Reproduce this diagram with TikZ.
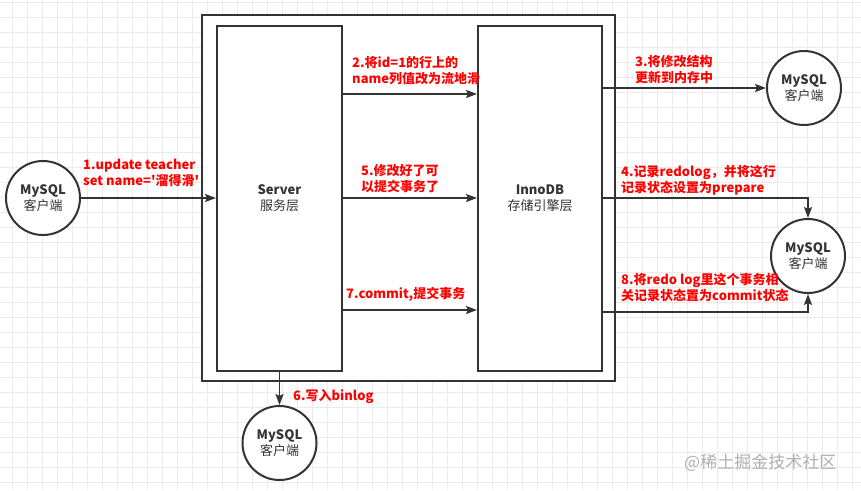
\documentclass[tikz,border=0pt]{standalone}
\usepackage{fontspec}
\setmainfont{Noto Sans CJK SC}
\usetikzlibrary{arrows.meta,positioning,calc}
\definecolor{ink}{HTML}{333333}
\definecolor{red1}{HTML}{FF0000}
\definecolor{grid1}{HTML}{EBEBEB}
\definecolor{muted}{HTML}{B0B0B0}

\begin{document}
\begin{tikzpicture}[x=1pt,y=-1pt,
  box/.style={draw=ink,line width=2pt,fill=white,inner sep=0pt,align=center,
              text=ink,font=\fontsize{13}{16}\selectfont},
  client/.style={circle,draw=ink,line width=2pt,fill=white,minimum size=74pt,
                 inner sep=0pt,align=center,text=ink,font=\fontsize{13}{16}\selectfont},
  arr/.style={draw=ink,line width=1.8pt,-{Stealth[length=11pt,width=8pt,inset=2pt]}},
  lbl/.style={anchor=west,align=left,inner sep=0pt,text=red1,
              font=\fontsize{13}{16}\selectfont\bfseries}]
  \useasboundingbox (0,0) rectangle (861,490);
  \fill[white] (0,0) rectangle (861,490);
  \foreach \x in {12,27,...,861}
    \draw[grid1,line width=0.8pt] (\x,0) -- (\x,490);
  \foreach \y in {2,17,...,490}
    \draw[grid1,line width=0.8pt] (0,\y) -- (861,\y);
  % frame and the two layers
  \node[box,minimum width=413pt,minimum height=366pt] (frame) at (408.5,198) {};
  \node[box,minimum width=125pt,minimum height=345pt] (server) at (279.5,198.5)
       {\textbf{Server}\\服务层};
  \node[box,minimum width=124pt,minimum height=345pt] (innodb) at (540,198.5)
       {\textbf{InnoDB}\\存储引擎层};
  % clients
  \node[client] (client1) at (43,198) {\textbf{MySQL}\\客户端};
  \node[client] (client2) at (804,88) {\textbf{MySQL}\\客户端};
  \node[client] (client3) at (808,256) {\textbf{MySQL}\\客户端};
  \node[client] (client4) at (279.5,443) {\textbf{MySQL}\\客户端};
  \coordinate (rowB) at (0,94);
  \coordinate (rowG) at (0,310);
  \coordinate (rowH) at (0,312);
  % arrows
  \draw[arr] (client1.east) -- (client1 -| server.west);
  \draw[arr] (server.east |- rowB) -- (innodb.west |- rowB);
  \draw[arr] (innodb.east |- client2) -- (client2.west);
  \draw[arr] (innodb.east |- client1) -| (client3.north);
  \draw[arr] (server.east |- client1) -- (innodb.west |- client1);
  \draw[arr] (server.south) -- (client4.north);
  \draw[arr] (server.east |- rowG) -- (innodb.west |- rowG);
  \draw[arr] (innodb.east |- rowH) -| (client3.south);
  % labels
  \node[lbl] (lbl1) at (83,173) {1.update teacher\\set name=\textquotesingle{}溜得滑\textquotesingle{}};
  \node[lbl] (lbl2) at (352,71) {2.将id=1的行上的\\name列值改为流地滑};
  \node[lbl] (lbl3) at (635,70) {3.将修改结构\\更新到内存中};
  \node[lbl] (lbl4) at (621,180) {4.记录redolog，并将这行\\记录状态设置为prepare};
  \node[lbl] (lbl5) at (361,179) {5.修改好了可\\以提交事务了};
  \node[lbl] (lbl6) at (293,396) {6.写入binlog};
  \node[lbl] (lbl7) at (346,294) {7.commit,提交事务};
  \node[lbl] (lbl8) at (621,288) {8.将redo log里这个事务相\\关记录状态置为commit状态};
  \node[anchor=west,inner sep=0pt,text=muted,font=\fontsize{17}{17}\selectfont]
       (mark) at (684,463) {@稀土掘金技术社区};
\end{tikzpicture}
\end{document}
